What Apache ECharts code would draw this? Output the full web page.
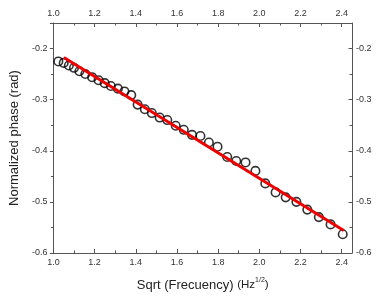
<!DOCTYPE html>
<html>
<head>
<meta charset="utf-8">
<script src="https://cdn.jsdelivr.net/npm/echarts@6/dist/echarts.min.js"></script>
<style>
  html, body { margin: 0; padding: 0; background: #fff; }
  #chart { width: 383px; height: 302px; }
</style>
</head>
<body>
<div id="chart"></div>
<script>
  // measured points, sqrt(f) vs normalized phase
  var sqrtFreq = [1.024, 1.050, 1.075, 1.100, 1.126, 1.155, 1.188, 1.219, 1.249, 1.279,
    1.313, 1.345, 1.378, 1.409, 1.444, 1.478, 1.516, 1.553, 1.594, 1.633,
    1.673, 1.714, 1.755, 1.797, 1.844, 1.888, 1.933, 1.981, 2.029, 2.079,
    2.128, 2.180, 2.233, 2.289, 2.346, 2.405];
  var phase = [-0.2252, -0.2281, -0.2332, -0.2377, -0.2443, -0.2498, -0.2560, -0.2619, -0.2677, -0.2732,
    -0.2784, -0.2839, -0.2911, -0.3097, -0.3188, -0.3262, -0.3350, -0.3399, -0.3510, -0.3590,
    -0.3688, -0.3711, -0.3838, -0.3920, -0.4121, -0.4199, -0.4228, -0.4394, -0.4638, -0.4814,
    -0.4911, -0.4999, -0.5151, -0.5298, -0.5440, -0.5633];

  // linear fit end points
  var fitX = [1.051, 2.410];
  var fitY = [-0.2176, -0.556];

  var xTicks = ['1.0', '1.2', '1.4', '1.6', '1.8', '2.0', '2.2', '2.4'];
  var yTicks = ['-0.6', '-0.5', '-0.4', '-0.3', '-0.2'];

  var chart = echarts.init(document.getElementById('chart'));

  var axisColor = '#555';
  var labelFont = { fontFamily: 'Liberation Sans', fontSize: 9, color: '#333' };

  function xAxisCfg(pos, isMain) {
    return {
      type: 'value',
      position: pos,
      min: 1.0,
      max: 2.45,
      interval: 0.2,
      axisLine: { show: true, onZero: false, lineStyle: { color: axisColor, width: 1 } },
      axisTick: { show: true, inside: true, length: 4, lineStyle: { color: axisColor } },
      minorTick: { show: true, splitNumber: 2, length: 2.5, lineStyle: { color: axisColor } },
      splitLine: { show: false },
      axisLabel: Object.assign({
        margin: 5,
        showMaxLabel: false,
        formatter: function (v) {
          var s = v.toFixed(1);
          return xTicks.indexOf(s) >= 0 && Math.abs(v * 5 - Math.round(v * 5)) < 1e-6 ? s : '';
        }
      }, labelFont),
      name: isMain ? '{a|Sqrt (Frecuency) }{b|(Hz}{sup|1/2}{b|)}' : '',
      nameLocation: 'middle',
      nameGap: 24,
      nameTextStyle: {
        rich: {
          a: { fontFamily: 'Liberation Sans', fontSize: 13, color: '#222', lineHeight: 16 },
          b: { fontFamily: 'Liberation Sans', fontSize: 11.5, color: '#222', lineHeight: 16 },
          sup: { fontFamily: 'Liberation Sans', fontSize: 7, color: '#222', verticalAlign: 'top', lineHeight: 16, padding: [0, 0, 6, 0] }
        }
      }
    };
  }

  function yAxisCfg(pos, isMain) {
    return {
      type: 'value',
      position: pos,
      min: -0.6,
      max: -0.15,
      interval: 0.1,
      axisLine: { show: true, onZero: false, lineStyle: { color: axisColor, width: 1 } },
      axisTick: { show: true, inside: !isMain, length: 3.5, lineStyle: { color: axisColor } },
      minorTick: { show: true, splitNumber: 2, length: 2.5, lineStyle: { color: axisColor } },
      splitLine: { show: false },
      axisLabel: Object.assign({
        margin: isMain ? 6 : 4,
        showMaxLabel: false,
        formatter: function (v) {
          var s = v.toFixed(1);
          return yTicks.indexOf(s) >= 0 && Math.abs(v * 10 - Math.round(v * 10)) < 1e-6 ? s : '';
        }
      }, labelFont),
      name: isMain ? 'Normalized phase (rad)' : '',
      nameLocation: 'middle',
      nameGap: 26,
      nameTextStyle: { fontFamily: 'Liberation Sans', fontSize: 13, color: '#222' }
    };
  }

  chart.setOption({
    animation: false,
    backgroundColor: '#fff',
    grid: { left: 51, right: 31, top: 23, bottom: 49, containLabel: false },
    xAxis: [xAxisCfg('bottom', true), xAxisCfg('top', false)],
    yAxis: [yAxisCfg('left', true), yAxisCfg('right', false)],
    series: [
      {
        name: 'data',
        type: 'scatter',
        xAxisIndex: 0,
        yAxisIndex: 0,
        symbol: 'circle',
        symbolSize: 8.5,
        itemStyle: { color: 'rgba(255,255,255,0)', borderColor: '#000', borderWidth: 1.6 },
        data: sqrtFreq.map(function (x, i) { return [x, phase[i]]; })
      },
      {
        name: 'fit',
        type: 'line',
        xAxisIndex: 0,
        yAxisIndex: 0,
        symbol: 'none',
        z: 3,
        lineStyle: { color: '#ee0000', width: 3 },
        data: fitX.map(function (x, i) { return [x, fitY[i]]; })
      }
    ]
  });
</script>
</body>
</html>
